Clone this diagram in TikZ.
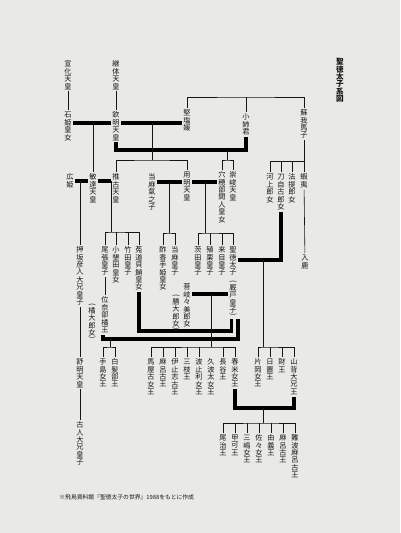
\documentclass[tikz,border=0pt]{standalone}
\usepackage{fontspec}
\usepackage{graphicx}
\setmainfont{Noto Sans CJK JP}
\definecolor{paper}{RGB}{233,233,229}
\definecolor{ink}{RGB}{22,22,22}
% vertical text: one box per character
\newcommand\tch[1]{\hbox to7pt{\hss\vbox to7.4pt{\vss\hbox{#1}\vss}\hss}}
\newcommand\tparen[1]{\hbox to7pt{\hss\vbox to3.6pt{\vss\hbox{\rotatebox[origin=c]{-90}{#1}}\vss}\hss}}
\def\tateA#1{\ifx\relax#1\else\ifx(#1\tparen{(}\else\ifx)#1\tparen{)}\else\tch{#1}\fi\fi\expandafter\tateA\fi}
\newcommand\tate[1]{\vbox{\offinterlineskip\tateA#1\relax}}
\begin{document}
\begin{tikzpicture}[x=1pt,y=-1pt,
    every node/.style={inner sep=1.2pt, text=ink, font=\fontsize{7.2}{7.4}\selectfont},
    p/.style={anchor=north},
    kin/.style={draw=ink, line width=0.6pt},
    wed/.style={draw=black, line width=3.2pt}]
  \fill[paper] (0,0) rectangle (400,533);
  \useasboundingbox (0,0) rectangle (400,533);

  \node[p, font=\fontsize{7.6}{7.8}\bfseries\selectfont] (title) at (340,57) {\tate{聖徳太子系図}};

  % first rows
  \node[p] (senka) at (68,59) {\tate{宣化天皇}};
  \node[p] (ishihime) at (68,110) {\tate{石姫皇女}};
  \node[p] (keitai) at (116,59) {\tate{継体天皇}};
  \node[p] (kinmei) at (116,110) {\tate{欽明天皇}};
  \node[p] (kitashi) at (187,108) {\tate{堅塩媛}};
  \node[p] (oane) at (246,112) {\tate{小姉君}};
  \node[p] (umako) at (304,108) {\tate{蘇我馬子}};

  \node[p] (hirohime) at (70,172) {\tate{広姫}};
  \node[p] (bidatsu) at (93,172) {\tate{敏達天皇}};
  \node[p] (suiko) at (116,172) {\tate{推古天皇}};
  \node[p] (tagima) at (152,172) {\tate{当麻氣之子}};
  \node[p] (yomei) at (187,170) {\tate{用明天皇}};
  \node[p] (anahobe) at (222,170) {\tate{穴穂部間人皇女}};
  \node[p] (sushun) at (233,170) {\tate{崇峻天皇}};
  \node[p] (kawakami) at (270,172) {\tate{河上郎女}};
  \node[p] (toji) at (281,172) {\tate{刀自古郎女}};
  \node[p] (hote) at (292,172) {\tate{法提郎女}};
  \node[p] (emishi) at (304,172) {\tate{蝦夷}};
  \node[p] (iruka) at (305,253) {\tate{入鹿}};

  \node[p] (oshisaka) at (80,245) {\tate{押坂彦人大兄皇子}};
  \node[p] (owari) at (105,245) {\tate{尾張皇子}};
  \node[p] (oharida) at (116,245) {\tate{小墾田皇女}};
  \node[p] (takeda) at (128,245) {\tate{竹田皇子}};
  \node[p] (kaidako) at (139,245) {\tate{菟道貝鮹皇女}};
  \node[p] (sukate) at (163,245) {\tate{酢香手姫皇女}};
  \node[p] (tagimaP) at (175,245) {\tate{当麻皇子}};
  \node[p] (mamuta) at (198,245) {\tate{茨田皇子}};
  \node[p] (ekuri) at (210,245) {\tate{殖栗皇子}};
  \node[p] (kume) at (222,245) {\tate{来目皇子}};
  \node[p] (shotoku) at (233,245) {\tate{聖徳太子}};
  \node[p] (umayado) at (233,279) {\tate{(厩戸皇子)}};
  \node[p] (kikiku) at (187,282) {\tate{菩岐々美郎女}};
  \node[p] (kashiwade) at (176,293) {\tate{(膳大郎女)}};
  \node[p] (tachibana) at (105,295) {\tate{位奈部橘王}};
  \node[p] (tachibanaO) at (92,302) {\tate{(橘大郎女)}};

  \node[p] (jomei) at (80,357) {\tate{舒明天皇}};
  \node[p] (furuhito) at (80,420) {\tate{古人大兄皇子}};
  \node[p] (teshima) at (103,357) {\tate{手島女王}};
  \node[p] (shiraka) at (115,357) {\tate{白髪部王}};
  \node[p] (umayako) at (151,357) {\tate{馬屋古女王}};
  \node[p] (maroko) at (163,357) {\tate{麻呂古王}};
  \node[p] (itoshiko) at (175,357) {\tate{伊止志古王}};
  \node[p] (sakikusa) at (187,357) {\tate{三枝王}};
  \node[p] (hatori) at (199,357) {\tate{波止利女王}};
  \node[p] (kuhata) at (211,357) {\tate{久波太女王}};
  \node[p] (hatsuse) at (223,357) {\tate{長谷王}};
  \node[p] (tsukinome) at (235,357) {\tate{春米女王}};
  \node[p] (kataoka) at (258,357) {\tate{片岡女王}};
  \node[p] (hioki) at (270,357) {\tate{日置王}};
  \node[p] (takara) at (282,357) {\tate{財王}};
  \node[p] (yamashiro) at (294,357) {\tate{山背大兄王}};

  \node[p] (owari2) at (223,433) {\tate{尾治王}};
  \node[p] (koka) at (235,433) {\tate{甲可王}};
  \node[p] (mishima) at (247,433) {\tate{三嶋女王}};
  \node[p] (sasa) at (259,433) {\tate{佐々女王}};
  \node[p] (yuge) at (271,433) {\tate{由義王}};
  \node[p] (maroko2) at (283,433) {\tate{麻呂古王}};
  \node[p] (naniwa) at (295,433) {\tate{難波麻呂古王}};

  \node[anchor=west, font=\fontsize{5.8}{7}\selectfont] (note) at (58,497) {※飛鳥資料館『聖徳太子の世界』1988をもとに作成};

  % marriages
  \coordinate (mIshi) at (93,123);
  \coordinate (mKita) at (152,123);
  \coordinate (mOane) at (227,150);
  \coordinate (mHiro) at (80,181);
  \coordinate (mSuiko) at (111,181);
  \coordinate (mTagima) at (169,182);
  \coordinate (mAnahobe) at (205,182);
  \coordinate (mToji) at (263,260);
  \coordinate (mKikiku) at (211,294);
  \coordinate (mKaidako) at (185,331);
  \coordinate (mTachi) at (110,339);
  \coordinate (mYama) at (263,408);
  \draw[wed] (ishihime.east |- mIshi) -- (kinmei.west |- mIshi);
  \draw[wed] (kinmei.east |- mKita) -- (kitashi.west |- mKita);
  \draw[wed] (kinmei.south) |- (mOane) -| (oane.south);
  \draw[wed] (hirohime.east |- mHiro) -- (bidatsu.west |- mHiro);
  \draw[wed] (bidatsu.east |- mSuiko) -- (suiko.west |- mSuiko);
  \draw[wed] (tagima.east |- mTagima) -- (yomei.west |- mTagima);
  \draw[wed] (yomei.east |- mAnahobe) -- (anahobe.west |- mAnahobe);
  \draw[wed] (toji.south) |- (shotoku.east |- mToji);
  \draw[wed] (kikiku.east |- mKikiku) -- (umayado.west |- mKikiku);
  \draw[wed] (kaidako.south) |- (mKaidako) -| ([xshift=-1.5pt]umayado.south);
  \draw[wed] ([xshift=-2pt]tachibana.south) |- (mTachi) -| ([xshift=5pt]umayado.south);
  \draw[wed] (yamashiro.south) |- (mYama) -| (tsukinome.south);

  % parents and children
  \coordinate (inameB) at (246,97);
  \coordinate (kitaB) at (152,160);
  \coordinate (oaneB) at (227,160);
  \coordinate (umakoB) at (304,161);
  \coordinate (suikoB) at (111,232);
  \coordinate (yomeiB) at (169,233);
  \coordinate (anaB) at (205,233);
  \coordinate (shoB1) at (211,347);
  \coordinate (shoB2) at (263,347);
  \coordinate (shoB3) at (110,347);
  \coordinate (yamaB) at (263,423);

  \draw[kin] (senka) -- (ishihime);
  \draw[kin] (keitai) -- (kinmei);
  \draw[kin] (kitashi.north) |- (inameB) -| (umako.north);
  \draw[kin] (oane.north) -- (inameB);
  \draw[kin] (mIshi) -- (bidatsu.north);
  \draw[kin] (mKita) -- (kitaB);
  \draw[kin] (suiko.north) |- (kitaB) -| (yomei.north);
  \draw[kin] (mOane) -- (oaneB);
  \draw[kin] (anahobe.north) |- (oaneB) -| (sushun.north);
  \draw[kin] (umako) -- (emishi);
  \draw[kin] (kawakami.north) |- (umakoB);
  \foreach \n in {toji,hote}
    \draw[kin] (\n.north) -- (\n.north |- umakoB);
  \draw[kin] (emishi) -- (iruka);

  \draw[kin] (mHiro) -- (oshisaka.north);
  \draw[kin] (oshisaka) -- (jomei);
  \draw[kin] (jomei) -- (furuhito);
  \draw[kin] (mSuiko) -- (suikoB);
  \draw[kin] (owari.north) |- (suikoB) -| (kaidako.north);
  \foreach \n in {oharida,takeda}
    \draw[kin] (\n.north) -- (\n.north |- suikoB);
  \draw[kin] (owari) -- (tachibana);
  \draw[kin] (mTagima) -- (yomeiB);
  \draw[kin] (sukate.north) |- (yomeiB) -| (tagimaP.north);
  \draw[kin] (mAnahobe) -- (anaB);
  \draw[kin] (mamuta.north) |- (anaB) -| (shotoku.north);
  \foreach \n in {ekuri,kume}
    \draw[kin] (\n.north) -- (\n.north |- anaB);

  \draw[kin] (mKikiku) -- (shoB1);
  \draw[kin] (umayako.north) |- (shoB1) -| (tsukinome.north);
  \foreach \n in {maroko,itoshiko,sakikusa,hatori,hatsuse}
    \draw[kin] (\n.north) -- (\n.north |- shoB1);
  \draw[kin] (mToji) -- (shoB2);
  \draw[kin] (kataoka.north) |- (shoB2) -| (yamashiro.north);
  \foreach \n in {hioki,takara}
    \draw[kin] (\n.north) -- (\n.north |- shoB2);
  \draw[kin] (mTachi) -- (shoB3);
  \draw[kin] (teshima.north) |- (shoB3) -| (shiraka.north);
  \draw[kin] (mYama) -- (yamaB);
  \draw[kin] (owari2.north) |- (yamaB) -| (naniwa.north);
  \foreach \n in {koka,mishima,sasa,yuge,maroko2}
    \draw[kin] (\n.north) -- (\n.north |- yamaB);
\end{tikzpicture}
\end{document}
